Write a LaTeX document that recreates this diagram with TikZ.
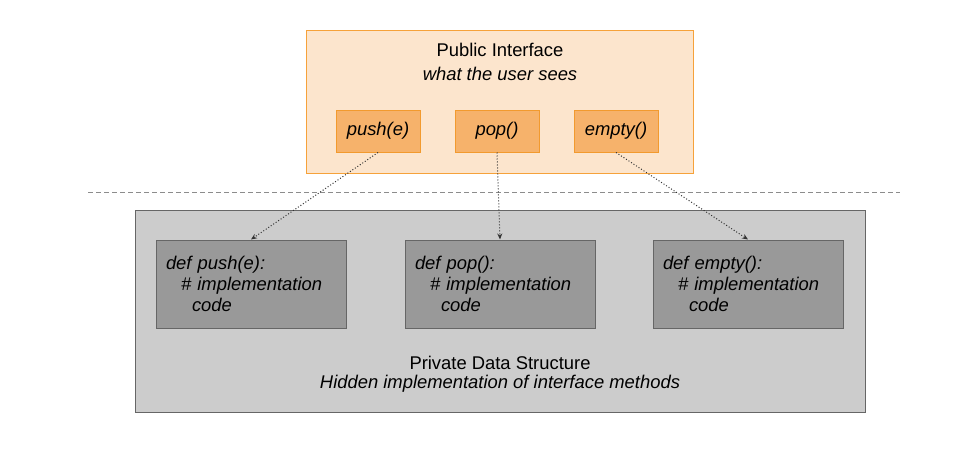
\documentclass[tikz,border=0pt]{standalone}
\usepackage{fontspec}
\setmainfont{Liberation Sans}
\usetikzlibrary{arrows.meta}
\definecolor{pubfill}{HTML}{FCE5CD}
\definecolor{puborder}{HTML}{F6A23A}
\definecolor{mfill}{HTML}{F6B26B}
\definecolor{mborder}{HTML}{F29A2E}
\definecolor{privfill}{HTML}{CCCCCC}
\definecolor{privborder}{HTML}{666666}
\definecolor{implfill}{HTML}{999999}
\newcommand{\fnt}{\fontsize{18.4}{21}\selectfont}
\tikzset{
  pubbox/.style={draw=puborder, fill=pubfill, line width=1pt, minimum width=387pt, minimum height=143pt, inner sep=0pt},
  methbox/.style={draw=mborder, fill=mfill, line width=1pt, minimum width=84pt, minimum height=42pt, inner sep=0pt, font=\fnt\itshape},
  privbox/.style={draw=privborder, fill=privfill, line width=1pt, minimum width=730pt, minimum height=202pt, inner sep=0pt},
  implbox/.style={draw=privborder, fill=implfill, line width=1pt, minimum width=190pt, minimum height=88pt, inner xsep=10pt, inner ysep=0pt, text width=170pt, align=left, font=\fontsize{18.4}{21}\selectfont\itshape},
  lbl/.style={align=center, inner sep=0pt},
  link/.style={line width=1pt, draw=black!80, dash pattern=on 1pt off 2pt, -{Stealth[length=6pt,width=5pt]}},
  sep/.style={draw=black!45, line width=0.8pt, dash pattern=on 5pt off 3pt}
}
\begin{document}
\begin{tikzpicture}[x=1pt,y=-1pt]
\useasboundingbox (0,0) rectangle (958,471);
% separator
\coordinate (sepL) at (88,192);
\coordinate (sepR) at (900,192);
\draw[sep] (sepL) -- (sepR);
% public
\node[pubbox] (pub) at (499.5,101.5) {};
\node[lbl, font=\fnt] (pubt) at (500,50) {Public Interface};
\node[lbl, font=\fnt\itshape] (pubs) at (500,74) {what the user sees};
\node[methbox] (push) at (378,131) {push(e)};
\node[methbox] (pop) at (497,131) {pop()};
\node[methbox] (empty) at (616,131) {empty()};
% private
\node[privbox] (priv) at (500,311) {};
\node[implbox] (ipush) at (251,284) {def push(e):\\\hspace*{15pt}\# implementation\\\hspace*{26pt}code};
\node[implbox] (ipop) at (500,284) {def pop():\\\hspace*{15pt}\# implementation\\\hspace*{26pt}code};
\node[implbox] (iempty) at (748,284) {def empty():\\\hspace*{15pt}\# implementation\\\hspace*{26pt}code};
\node[lbl, font=\fnt] (privt) at (500,363) {Private Data Structure};
\node[lbl, font=\fnt\itshape] (privs) at (500,384) {Hidden implementation of interface methods};
% links
\draw[link] (push.south) -- (ipush.north);
\draw[link] (pop.south) -- (ipop.north);
\draw[link] (empty.south) -- (iempty.north);
\end{tikzpicture}
\end{document}
